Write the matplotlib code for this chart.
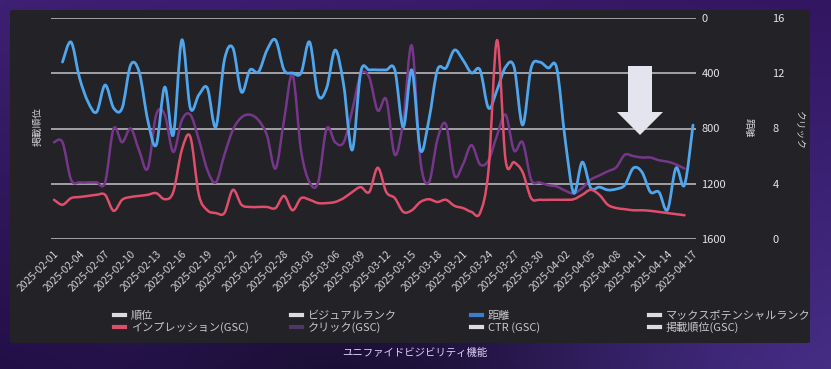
import numpy as np
import pandas as pd
import matplotlib
matplotlib.use("Agg")
import matplotlib.pyplot as plt
from matplotlib.path import Path
from matplotlib.patches import PathPatch, Polygon, FancyBboxPatch
from matplotlib.lines import Line2D

plt.rcParams['font.family'] = ['Noto Sans CJK JP', 'DejaVu Sans']

# ---------------- data ----------------
dates = pd.date_range('2025-02-01', '2025-04-17', freq='D')
tick_labels = [d.strftime('%Y-%m-%d') for d in dates[::3]]

# 距離 (right axis 1, inverted 0..1600)
distance = [np.nan, 319, 174, 434, 608, 681, 485, 652, 652, 340, 391,
            738, 919, 500, 847, 159, 652, 557, 507, 789, 304,
            217, 536, 376, 391, 232, 159, 376, 398, 398, 174,
            557, 507, 232, 485, 956, 391, 376, 376, 376, 376,
            789, 376, 956, 738, 376, 362, 232, 304, 398, 376,
            652, 521, 355, 355, 775, 362, 319, 362, 362, 883,
            1267, 1043, 1231, 1224, 1245, 1238, 1209, 1086, 1115, 1260,
            1260, 1390, 1086, 1209, 775]

# クリック(GSC) (right axis 2, 0..16)
clicks = [7.0, 7.0, 4.3, 4.1, 4.1, 4.1, 4.1, 8.0, 7.0, 8.0,
          6.4, 5.1, 9.0, 9.0, 6.3, 8.6, 9.0, 7.2, 5.0, 4.1,
          6.1, 7.9, 8.8, 9.0, 8.6, 7.5, 5.1, 8.6, 11.9, 6.4,
          4.1, 4.1, 8.0, 7.0, 7.0, 9.3, 11.9, 11.7, 9.3, 10.1,
          6.1, 8.6, 14.0, 5.7, 4.1, 7.2, 8.3, 4.6, 5.4, 6.8,
          5.4, 5.7, 7.5, 9.0, 6.4, 7.0, 4.3, 4.1, 3.9, 3.8,
          3.5, 3.3, 3.7, 4.3, 4.6, 4.9, 5.2, 6.1, 6.0, 5.9,
          5.9, 5.7, 5.6, 5.4, 5.1, np.nan]

# インプレッション(GSC) (hidden axis)
impressions = [71, 62, 74, 76, 78, 80, 80, 51, 71, 76,
               78, 80, 83, 72, 85, 161, 185, 80, 52, 47,
               47, 89, 62, 58, 58, 58, 56, 78, 52, 74,
               71, 65, 65, 67, 74, 85, 94, 85, 129, 85,
               74, 49, 52, 67, 72, 67, 71, 60, 56, 49,
               47, 125, 360, 143, 139, 121, 74, 71, 71, 71,
               71, 72, 80, 89, 80, 62, 56, 54, 52, 52,
               51, 49, 47, 45, 43, np.nan]

distance_ticks = [0, 400, 800, 1200, 1600]
click_ticks = [0, 4, 8, 12, 16]

legend_columns = [
    [('順位', '#dcdce0'), ('インプレッション(GSC)', '#d9506c')],
    [('ビジュアルランク', '#dcdce0'), ('クリック(GSC)', '#4e3764')],
    [('距離', '#3d7ccb'), ('CTR (GSC)', '#dcdce0')],
    [('マックスポテンシャルランク', '#dcdce0'), ('掲載順位(GSC)', '#dcdce0')],
]

# ---------------- figure ----------------
W, H = 831, 369
fig = plt.figure(figsize=(W / 100, H / 100), dpi=100)

# background gradient
bg = fig.add_axes([0, 0, 1, 1], zorder=-10)
bg.set_axis_off()
gy, gx = np.mgrid[0:1:100j, 0:1:200j]
tl = np.array([62, 32, 116]); tr = np.array([50, 22, 98])
bl = np.array([36, 16, 74]); br = np.array([70, 46, 134])
img = (tl[None, None] * ((1 - gx) * (1 - gy))[..., None] + tr[None, None] * (gx * (1 - gy))[..., None]
       + bl[None, None] * ((1 - gx) * gy)[..., None] + br[None, None] * (gx * gy)[..., None])
dark = np.exp(-((gx - 0.45) ** 2) / 0.08)[..., None] * gy[..., None] * 0.45
img = img * (1 - dark)
bg.imshow(img / 255.0, extent=[0, 1, 0, 1], aspect='auto', origin='upper')
bg.set_xlim(0, 1); bg.set_ylim(0, 1)

panel = FancyBboxPatch((10 / W, 1 - 343 / H), 800 / W, 333 / H,
                       boxstyle='round,pad=0,rounding_size=0.004',
                       transform=fig.transFigure, facecolor='#222227',
                       edgecolor='none', zorder=-5)
fig.patches.append(panel)

ax = fig.add_axes([51 / W, 1 - 239 / H, 645 / W, 221 / H])
ax.set_facecolor('none')
x = np.arange(len(dates))

ax2 = ax.twinx()
ax3 = ax.twinx()

ax.set_xlim(-0.35, 75.35)
ax.set_ylim(1600, 0)
ax.set_yticks(distance_ticks)
ax.yaxis.tick_right()
ax.tick_params(axis='y', which='both', left=False, labelleft=False, right=False,
               labelright=True, length=0, pad=4, labelsize=8, labelcolor='#e4e4e8')
ax.grid(axis='y', color='#c4c4c8', lw=1.1, zorder=0)
ax.set_axisbelow(True)
for s in ax.spines.values():
    s.set_visible(False)
ax.set_xticks(x[::3])
ax.set_xticklabels(tick_labels, rotation=45, ha='right', rotation_mode='anchor',
                   fontsize=7.4, color='#d4d4d8')
ax.tick_params(axis='x', length=0, pad=7)

ax2.set_ylim(0, 16)
ax2.set_yticks(click_ticks)
ax2.tick_params(axis='y', length=0, pad=55, labelsize=8, labelcolor='#e4e4e8')
for s in ax2.spines.values():
    s.set_visible(False)

ax3.set_ylim(0, 400)
ax3.set_axis_off()


def smooth_path(xs, ys):
    pts = [(a, b) for a, b in zip(xs, ys) if not np.isnan(b)]
    verts = [pts[0]]
    codes = [Path.MOVETO]
    n = len(pts)
    for i in range(n - 1):
        p0 = pts[i - 1] if i > 0 else pts[i]
        p1 = pts[i]
        p2 = pts[i + 1]
        p3 = pts[i + 2] if i + 2 < n else pts[i + 1]
        c1 = (p1[0] + (p2[0] - p0[0]) / 6, p1[1] + (p2[1] - p0[1]) / 6)
        c2 = (p2[0] - (p3[0] - p1[0]) / 6, p2[1] - (p3[1] - p1[1]) / 6)
        verts += [c1, c2, p2]
        codes += [Path.CURVE4] * 3
    return Path(verts, codes)


series = [
    (clicks, ax2, '#76378a', 1.8, 3),
    (distance, ax, '#4fa6ec', 2.0, 4),
    (impressions, ax3, '#e04e6c', 1.8, 5),
]
for vals, a, col, lw, z in series:
    p = PathPatch(smooth_path(x, np.asarray(vals, dtype=float)), transform=a.transData,
                  facecolor='none', edgecolor=col, lw=lw, zorder=z, capstyle='round',
                  joinstyle='round')
    ax.add_patch(p)

# arrow annotation (axes-fraction coords)
def af(px, py):
    return ((px - 51) / 645, (239 - py) / 221)

arrow_pts = [af(628, 66), af(652, 66), af(652, 112), af(663, 112), af(640, 135),
             af(617, 112), af(628, 112)]
ax.add_patch(Polygon(arrow_pts, closed=True, transform=ax.transAxes,
                     facecolor='#e4e4ee', edgecolor='none', zorder=8))

# axis titles
fig.text(38 / W, 1 - 127 / H, '掲載順位', rotation=90, ha='center', va='center',
         fontsize=7, color='#d4d4d8')
fig.text(749 / W, 1 - 128 / H, '距離', rotation=270, ha='center', va='center',
         fontsize=7, color='#d4d4d8')
fig.text(799 / W, 1 - 129 / H, 'クリック', rotation=270, ha='center', va='center',
         fontsize=7, color='#d4d4d8')

# legends
col_x = [114, 291, 471, 649]
for cx, entries in zip(col_x, legend_columns):
    handles = [Line2D([], [], color=c, lw=3) for _, c in entries]
    labels = [t for t, _ in entries]
    leg = fig.legend(handles, labels, loc='upper left',
                     bbox_to_anchor=(cx / W, 1 - 311 / H), bbox_transform=fig.transFigure,
                     frameon=False, fontsize=8, handlelength=1.0, handletextpad=0.5,
                     labelspacing=0.1, borderpad=0, borderaxespad=0)
    for t in leg.get_texts():
        t.set_color('#c8c8cc')

fig.text(415 / W, 1 - 353 / H, 'ユニファイドビジビリティ機能', ha='center', va='center',
         fontsize=7.5, color='#ddd4f4')

fig.savefig('out.png', dpi=100)
